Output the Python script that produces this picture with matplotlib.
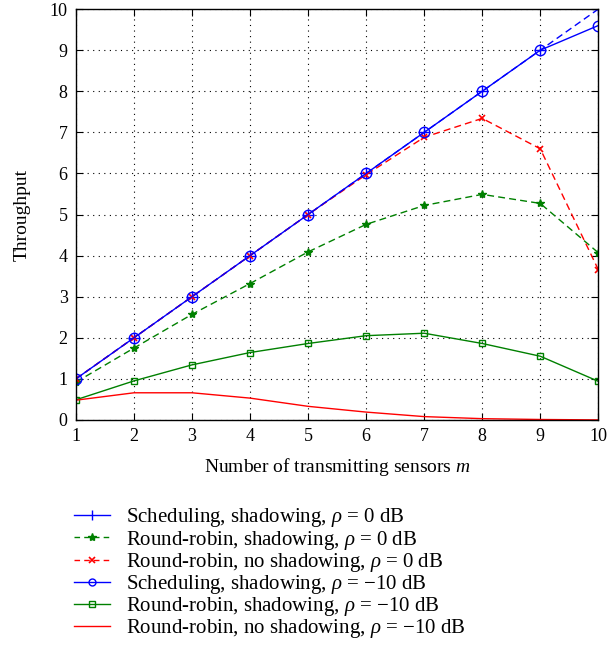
import numpy as np
import matplotlib
matplotlib.use('Agg')
import matplotlib.pyplot as plt
from matplotlib.lines import Line2D

plt.rcParams['font.family'] = ['Liberation Serif', 'DejaVu Serif']
plt.rcParams['mathtext.fontset'] = 'custom'
plt.rcParams['mathtext.it'] = 'Liberation Serif:italic'
plt.rcParams['mathtext.rm'] = 'Liberation Serif'

# Data
m = np.arange(1, 11)
sched_0db = [1, 2, 3, 4, 5, 6, 7, 8, 9, 10]
rr_shad_0db = [0.92, 1.75, 2.57, 3.32, 4.09, 4.76, 5.22, 5.49, 5.27, 4.07]
rr_noshad_0db = [1, 2, 3, 4, 5, 5.97, 6.88, 7.34, 6.60, 3.66]
sched_m10db = [1, 2, 3, 4, 5, 6, 7, 8, 9, 9.6]
rr_shad_m10db = [0.49, 0.95, 1.34, 1.64, 1.86, 2.05, 2.11, 1.86, 1.55, 0.94]
rr_noshad_m10db = [0.48, 0.66, 0.66, 0.53, 0.33, 0.19, 0.08, 0.03, 0.01, 0.0]

labels = [r'Scheduling, shadowing, $\rho$ = 0 dB',
          r'Round-robin, shadowing, $\rho$ = 0 dB',
          r'Round-robin, no shadowing, $\rho$ = 0 dB',
          r'Scheduling, shadowing, $\rho$ = $-$10 dB',
          r'Round-robin, shadowing, $\rho$ = $-$10 dB',
          r'Round-robin, no shadowing, $\rho$ = $-$10 dB']

fig = plt.figure(figsize=(6.08, 6.51), dpi=100)
ax = fig.add_axes([0.125, 0.355, 0.859, 0.631])

blue = '#0000ff'
green = '#008000'
red = '#ff0000'
lw = 1.0
dash = (0, (5, 3))

ax.plot(m, sched_0db, color=blue, ls=dash, lw=lw, marker='+', ms=8, mew=1.0)
ax.plot(m, rr_shad_0db, color=green, ls=dash, lw=lw, marker='*', ms=6)
ax.plot(m, rr_noshad_0db, color=red, ls=dash, lw=lw, marker='x', ms=5, mew=1.2)
ax.plot(m, sched_m10db, color=blue, ls='-', lw=lw, marker='o', ms=7.5, mfc='none', mew=1.0)
ax.plot(m, rr_shad_m10db, color=green, ls='-', lw=lw, marker='s', ms=5, mfc='none', mew=1.0)
ax.plot(m, rr_noshad_m10db, color=red, ls='-', lw=lw)

ax.set_xlim(1, 10)
ax.set_ylim(0, 10)
ax.set_xticks(range(1, 11))
ax.set_yticks(range(0, 11))
ax.grid(True, color='black', ls=(0, (1, 4)), lw=0.8)
ax.tick_params(direction='in', top=True, right=True, labelsize=13, length=5, pad=6)
for s in ax.spines.values():
    s.set_linewidth(1.0)

ax.set_xlabel(r'Number of transmitting sensors $m$', fontsize=14, labelpad=8)
ax.set_ylabel('Throughput', fontsize=14, labelpad=14)

# legend handles as drawn in the reference
handles = [
    Line2D([], [], color=blue, ls='-', lw=lw, marker='|', ms=7),
    Line2D([], [], color=green, ls=(0, (4, 3)), lw=lw, marker='*', ms=6),
    Line2D([], [], color=red, ls=(0, (4, 3)), lw=lw, marker='x', ms=4.5, mew=1.2),
    Line2D([], [], color=blue, ls='-', lw=lw, marker='o', ms=5, mfc='none'),
    Line2D([], [], color=green, ls='-', lw=lw, marker='s', ms=4, mfc='none'),
    Line2D([], [], color=red, ls='-', lw=lw),
]
fig.legend(handles, labels, loc='upper left', bbox_to_anchor=(0.122, 0.222), frameon=False,
           fontsize=15, handlelength=1.7, labelspacing=-0.04, handletextpad=0.8, borderpad=0,
           borderaxespad=0)

fig.savefig('out.png', dpi=100)
